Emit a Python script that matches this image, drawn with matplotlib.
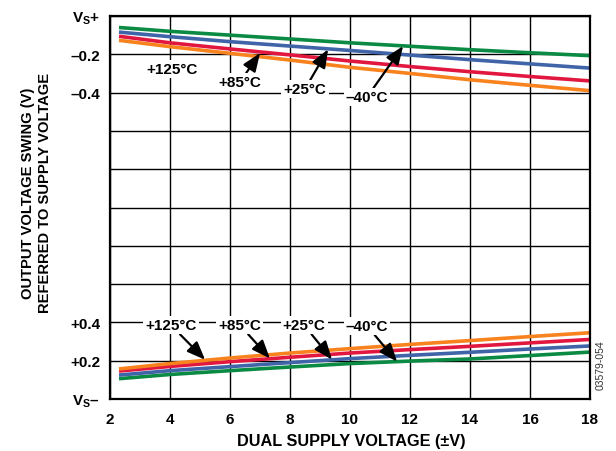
import matplotlib
matplotlib.use("Agg")
import matplotlib.pyplot as plt

plt.rcParams['font.family'] = ['Liberation Sans', 'DejaVu Sans']
plt.rcParams['font.weight'] = 'bold'
plt.rcParams['mathtext.fontset'] = 'custom'
plt.rcParams['mathtext.rm'] = 'Liberation Sans:bold'
plt.rcParams['mathtext.bf'] = 'Liberation Sans:bold'
plt.rcParams['mathtext.it'] = 'Liberation Sans:bold'

# Supply voltage (±V)
supply = [2.3, 4, 6, 8, 10, 12, 14, 16, 18]

# High-side swing, referred to VS+ (V)
hi_m40 = [-0.060, -0.080, -0.100, -0.120, -0.140, -0.158, -0.176, -0.192, -0.207]
hi_25 = [-0.084, -0.108, -0.134, -0.157, -0.180, -0.204, -0.228, -0.250, -0.272]
hi_85 = [-0.106, -0.140, -0.172, -0.203, -0.235, -0.264, -0.291, -0.316, -0.339]
hi_125 = [-0.127, -0.160, -0.195, -0.230, -0.268, -0.300, -0.333, -0.362, -0.390]

# Low-side swing, referred to VS- (V)
lo_m40 = [0.106, 0.128, 0.148, 0.167, 0.185, 0.198, 0.209, 0.227, 0.245]
lo_25 = [0.125, 0.148, 0.169, 0.190, 0.211, 0.228, 0.244, 0.261, 0.277]
lo_85 = [0.146, 0.170, 0.195, 0.218, 0.240, 0.258, 0.275, 0.293, 0.311]
lo_125 = [0.157, 0.185, 0.214, 0.240, 0.263, 0.285, 0.305, 0.326, 0.346]

span = 2.0  # axis span between VS- and VS+ (V)
x_ticks = [2, 4, 6, 8, 10, 12, 14, 16, 18]
y_ticks = [0, 0.2, 0.4, 0.6, 0.8, 1.0, 1.2, 1.4, 1.6, 1.8, 2.0]
y_labels = ['$\\mathbf{V_S}$\u2013', '+0.2', '+0.4', '', '', '', '', '', '\u20130.4', '\u20130.2', '$\\mathbf{V_S}$+']

colors = {'m40': '#0A8A43', '25': '#4064A8', '85': '#E2173F', '125': '#F7821E'}

FS = 11

fig = plt.figure(figsize=(6.16, 4.52), dpi=100)
ax = fig.add_axes([110/616, 1-400/452, 480/616, 383/452])

for hi, lo, key in [(hi_m40, lo_m40, 'm40'), (hi_25, lo_25, '25'),
                    (hi_85, lo_85, '85'), (hi_125, lo_125, '125')]:
    ax.plot(supply, [span + v for v in hi], color=colors[key], lw=2.6, zorder=3,
            solid_capstyle='butt')
    ax.plot(supply, lo, color=colors[key], lw=2.6, zorder=3, solid_capstyle='butt')

ax.set_xlim(2, 18)
ax.set_ylim(0, span)
ax.set_xticks(x_ticks)
ax.set_xticklabels([str(v) for v in x_ticks], fontsize=FS, fontweight='bold')
ax.set_yticks(y_ticks)
ax.set_yticklabels(y_labels, fontsize=FS, fontweight='bold')
ax.tick_params(axis='y', length=0, pad=7)
ax.tick_params(axis='x', length=0, pad=9)
ax.grid(True, color='black', lw=1.0)
ax.set_axisbelow(True)
for s in ax.spines.values():
    s.set_linewidth(1.6)
    s.set_zorder(4)

fig.text(351/616, 1-442/452, 'DUAL SUPPLY VOLTAGE (\u00b1V)', ha='center', va='center',
         fontsize=11.7, fontweight='bold')
fig.text(28/616, 1-193/452, 'OUTPUT VOLTAGE SWING (V)', rotation=90, ha='center', va='center',
         fontsize=10.6, fontweight='bold')
fig.text(45/616, 1-193/452, 'REFERRED TO SUPPLY VOLTAGE', rotation=90, ha='center', va='center',
         fontsize=10.6, fontweight='bold')
fig.text(601/616, 1-365/452, '03579-054', rotation=90, ha='center', va='center',
         fontsize=7.5, fontweight='normal', color='#333333')

bbox = dict(fc='white', ec='none', pad=1.5)
arrow = dict(arrowstyle='-|>,head_length=1.0,head_width=0.4', lw=1.6, color='black',
             shrinkA=0, shrinkB=0)

# top labels
ax.text(4.07, 1.723, '+125\u00b0C', ha='center', va='center', fontsize=FS, bbox=bbox, zorder=2.5)
ax.annotate('+85\u00b0C', xy=(7.0, 1.806), xytext=(6.33, 1.655), ha='center', va='center',
            fontsize=FS, bbox=bbox, arrowprops=arrow, zorder=5)
ax.annotate('+25\u00b0C', xy=(9.27, 1.826), xytext=(8.5, 1.619), ha='center', va='center',
            fontsize=FS, bbox=bbox, arrowprops=arrow, zorder=5)
ax.annotate('\u201340\u00b0C', xy=(11.77, 1.843), xytext=(10.57, 1.577), ha='center', va='center',
            fontsize=FS, bbox=bbox, arrowprops=arrow, zorder=5)

# bottom labels
ax.annotate('+125\u00b0C', xy=(5.17, 0.205), xytext=(4.03, 0.386), ha='center', va='center',
            fontsize=FS, bbox=bbox, arrowprops=arrow, zorder=5)
ax.annotate('+85\u00b0C', xy=(7.33, 0.212), xytext=(6.33, 0.386), ha='center', va='center',
            fontsize=FS, bbox=bbox, arrowprops=arrow, zorder=5)
ax.annotate('+25\u00b0C', xy=(9.4, 0.206), xytext=(8.47, 0.386), ha='center', va='center',
            fontsize=FS, bbox=bbox, arrowprops=arrow, zorder=5)
ax.annotate('\u201340\u00b0C', xy=(11.57, 0.195), xytext=(10.57, 0.381), ha='center', va='center',
            fontsize=FS, bbox=bbox, arrowprops=arrow, zorder=5)

fig.savefig('out.png', dpi=100)
